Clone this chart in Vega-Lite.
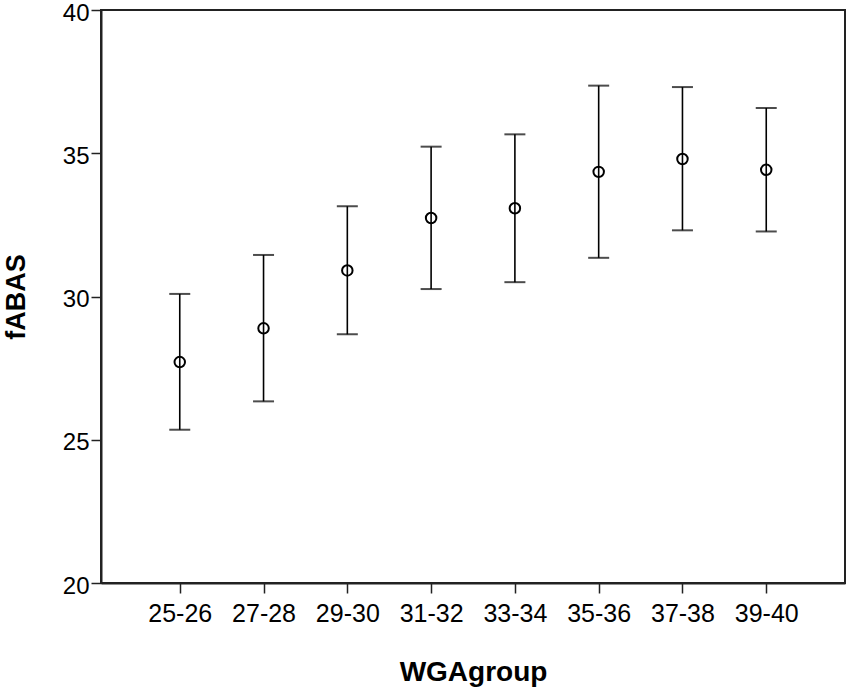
{
  "$schema": "https://vega.github.io/schema/vega-lite/v6.json",
  "width": 744,
  "height": 573,
  "autosize": {"type": "none"},
  "padding": {"left": 101, "top": 10, "right": 5, "bottom": 106},
  "background": "white",
  "config": {
    "view": {"stroke": "#222222", "strokeWidth": 2},
    "font": "Liberation Sans"
  },
  "data": {
    "values": [
      {"group": "25-26", "mean": 27.71, "lo": 25.35, "hi": 30.09},
      {"group": "27-28", "mean": 28.89, "lo": 26.34, "hi": 31.45},
      {"group": "29-30", "mean": 30.91, "lo": 28.68, "hi": 33.15},
      {"group": "31-32", "mean": 32.74, "lo": 30.26, "hi": 35.23},
      {"group": "33-34", "mean": 33.08, "lo": 30.5, "hi": 35.66},
      {"group": "35-36", "mean": 34.35, "lo": 31.35, "hi": 37.36},
      {"group": "37-38", "mean": 34.8, "lo": 32.31, "hi": 37.31},
      {"group": "39-40", "mean": 34.42, "lo": 32.27, "hi": 36.58}
    ]
  },
  "encoding": {
    "x": {
      "field": "group",
      "type": "ordinal",
      "sort": null,
      "scale": {"type": "point", "padding": 0.94},
      "axis": {
        "title": "WGAgroup",
        "labelAngle": 0,
        "labelFontSize": 25,
        "labelColor": "black",
        "tickSize": 10,
        "tickColor": "#222222",
        "tickWidth": 1.5,
        "domainColor": "#222222",
        "domainWidth": 2,
        "labelPadding": 8,
        "titleFontSize": 28,
        "titleFontWeight": "bold",
        "titleColor": "black",
        "titleX": 372,
        "titleY": 97,
        "titleBaseline": "alphabetic",
        "titleAlign": "center",
        "grid": false
      }
    }
  },
  "layer": [
    {
      "mark": {"type": "rule", "color": "black", "strokeWidth": 1.6},
      "encoding": {
        "y": {
          "field": "lo",
          "type": "quantitative",
          "title": "fABAS",
          "scale": {"domain": [20, 40], "nice": false, "zero": false},
          "axis": {
            "values": [20, 25, 30, 35, 40],
            "labelFontSize": 24,
            "labelColor": "black",
            "labelOffset": 3,
            "tickSize": 10,
            "tickColor": "#222222",
            "tickWidth": 1.5,
            "domainColor": "#222222",
            "domainWidth": 2,
            "labelPadding": 2,
            "titleFontSize": 27,
            "titleFontWeight": "bold",
            "titleColor": "black",
            "titleX": -77,
            "titleY": 286.5,
            "titleBaseline": "alphabetic",
            "titleAlign": "center",
            "titleAngle": 270,
            "grid": false
          }
        },
        "y2": {"field": "hi"}
      }
    },
    {
      "mark": {"type": "tick", "color": "black", "size": 21, "thickness": 2},
      "encoding": {
        "y": {"field": "lo", "type": "quantitative", "title": "fABAS"}
      }
    },
    {
      "mark": {"type": "tick", "color": "black", "size": 21, "thickness": 2},
      "encoding": {
        "y": {"field": "hi", "type": "quantitative", "title": "fABAS"}
      }
    },
    {
      "mark": {"type": "point", "shape": "circle", "filled": false, "color": "black", "size": 110, "strokeWidth": 2, "opacity": 1},
      "encoding": {
        "y": {"field": "mean", "type": "quantitative", "title": "fABAS"}
      }
    }
  ]
}
